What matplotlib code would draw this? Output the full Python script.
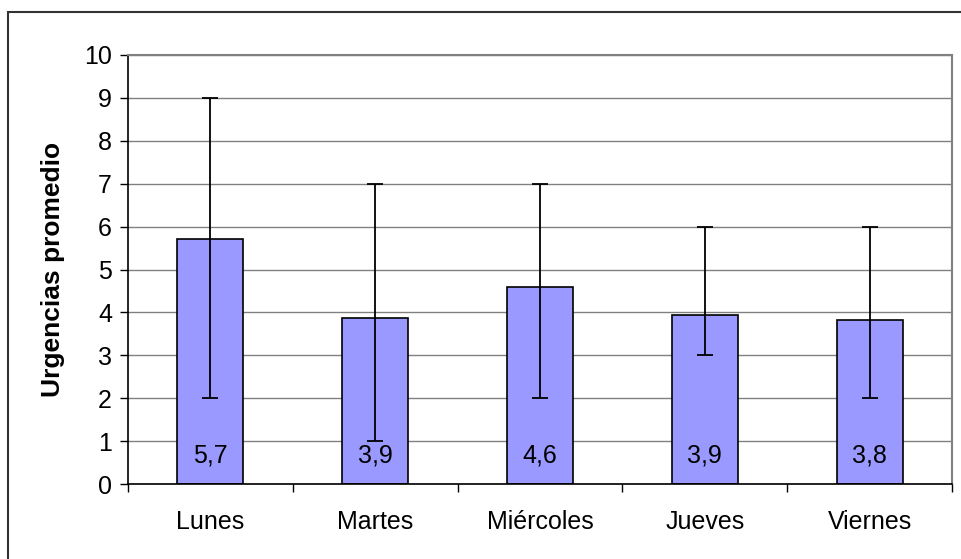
import matplotlib.pyplot as plt
from matplotlib.patches import Rectangle
from matplotlib.ticker import MultipleLocator

plt.rcParams['font.family'] = ['Liberation Sans', 'DejaVu Sans']

# datos
dias = ['Lunes', 'Martes', 'Miércoles', 'Jueves', 'Viernes']
promedio = [5.72, 3.87, 4.6, 3.94, 3.82]
minimo = [2, 1, 2, 3, 2]
maximo = [9, 7, 7, 6, 6]

fig = plt.figure(figsize=(9.61, 5.59), dpi=100)
ax = fig.add_axes([128 / 961, 1 - 484 / 559, 824 / 961, 429 / 559])

x = list(range(len(dias)))
err_low = [p - m for p, m in zip(promedio, minimo)]
err_high = [m - p for p, m in zip(promedio, maximo)]

ax.bar(x, promedio, width=0.4, color='#9999FF', edgecolor='black', linewidth=1.2, zorder=2)
ax.errorbar(x, promedio, yerr=[err_low, err_high], fmt='none', ecolor='black',
            elinewidth=1.3, capsize=5.8, capthick=1.3, zorder=3)

for xi, p in zip(x, promedio):
    ax.text(xi, 0.66, f'{p:.1f}'.replace('.', ','), ha='center', va='center',
            fontsize=18, zorder=4)

ax.set_xlim(-0.5, 4.5)
ax.set_ylim(0, 10)
ax.yaxis.set_major_locator(MultipleLocator(1))
ax.grid(axis='y', color='#808080', linewidth=1, zorder=0)

ax.set_xticks(x)
ax.set_xticklabels(dias)
ax.set_xticks([i - 0.5 for i in range(len(dias) + 1)], minor=True)
ax.tick_params(axis='x', which='major', length=0, pad=19, labelsize=18)
ax.tick_params(axis='x', which='minor', length=5.5, width=1, direction='out')
ax.tick_params(axis='y', length=5.5, width=1, pad=6, labelsize=18)

ax.set_ylabel('Urgencias promedio', fontsize=19, fontweight='bold')
ax.yaxis.set_label_coords(-0.076, 0.5)

ax.spines['left'].set_color('black')
ax.spines['bottom'].set_color('black')
ax.spines['left'].set_linewidth(1.2)
ax.spines['bottom'].set_linewidth(1.2)
ax.spines['top'].set_color('#808080')
ax.spines['right'].set_color('#808080')
ax.spines['top'].set_linewidth(1.5)
ax.spines['right'].set_linewidth(1.5)

# marco exterior
fig.patches.append(Rectangle((8 / 961, -0.1), 1.5, 1.1 - 12 / 559, transform=fig.transFigure,
                             fill=False, edgecolor='#333333', linewidth=1.5))

fig.savefig('out.png', dpi=100)
